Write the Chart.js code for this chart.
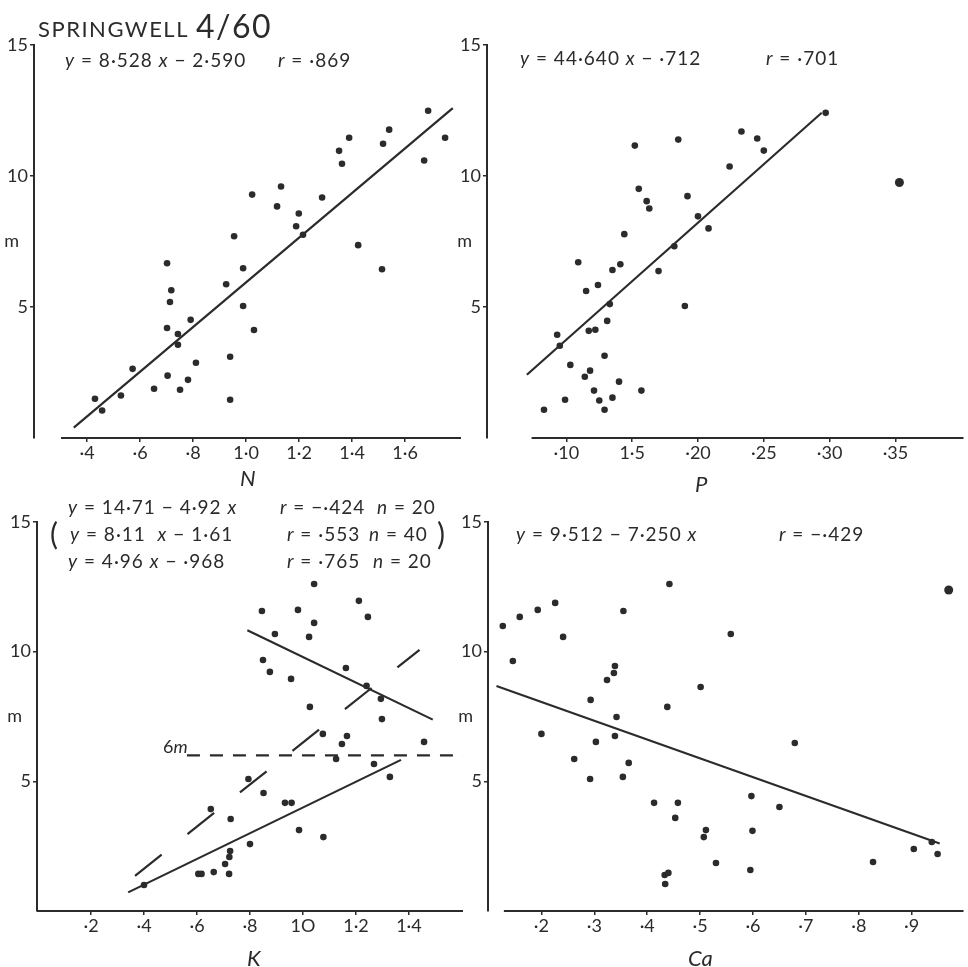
<!DOCTYPE html>
<html>
<head>
<meta charset="utf-8">
<title>Springwell 4/60</title>
<script src="https://cdn.jsdelivr.net/npm/chart.js@4.4.0/dist/chart.umd.min.js"></script>
<style>
  html, body { margin: 0; padding: 0; background: #fff; }
  #sheet { position: relative; width: 968px; height: 967px; overflow: hidden;
           font-family: Lato, 'Open Sans', 'DejaVu Sans', sans-serif; color: #2b2b2b; }
  #sheet canvas { position: absolute; left: 0; top: 0; }
  .lbl { position: absolute; white-space: nowrap; line-height: 1; font-weight: 400; }
  .eq { font-size: 19px; letter-spacing: 1px; }
  .ax { font-size: 22px; font-style: italic; }
</style>
</head>
<body>
<div id="sheet">
  <canvas id="nChart" width="968" height="967"></canvas>
  <canvas id="pChart" width="968" height="967"></canvas>
  <canvas id="kChart" width="968" height="967"></canvas>
  <canvas id="caChart" width="968" height="967"></canvas>

  <div class="lbl" style="left:38px;top:18px;font-size:22px;letter-spacing:1.5px">SPRINGWELL</div>
  <div class="lbl" style="left:196px;top:10px;font-size:32px;letter-spacing:1.5px">4/60</div>

  <div class="lbl eq" style="left:65px;top:50px"><i>y</i> = 8·528 <i>x</i> − 2·590</div>
  <div class="lbl eq" style="left:278px;top:50px"><i>r</i> = ·869</div>

  <div class="lbl eq" style="left:520px;top:48px"><i>y</i> = 44·640 <i>x</i> − ·712</div>
  <div class="lbl eq" style="left:766px;top:48px"><i>r</i> = ·701</div>

  <div class="lbl eq" style="left:68px;top:497px"><i>y</i> = 14·71 − 4·92 <i>x</i></div>
  <div class="lbl eq" style="left:280px;top:497px"><i>r</i> = −·424</div>
  <div class="lbl eq" style="left:377px;top:497px"><i>n</i> = 20</div>
  <div class="lbl" style="left:50px;top:518px;font-size:30px">(</div>
  <div class="lbl eq" style="left:70px;top:524px"><i>y</i> = 8·11 &nbsp;<i>x</i> − 1·61</div>
  <div class="lbl eq" style="left:287px;top:524px"><i>r</i> = ·553</div>
  <div class="lbl eq" style="left:369px;top:524px"><i>n</i> = 40</div>
  <div class="lbl" style="left:437px;top:518px;font-size:30px">)</div>
  <div class="lbl eq" style="left:68px;top:551px"><i>y</i> = 4·96 <i>x</i> − ·968</div>
  <div class="lbl eq" style="left:287px;top:551px"><i>r</i> = ·765</div>
  <div class="lbl eq" style="left:373px;top:551px"><i>n</i> = 20</div>
  <div class="lbl" style="left:163px;top:737px;font-size:18px">6<i>m</i></div>

  <div class="lbl eq" style="left:516px;top:524px"><i>y</i> = 9·512 − 7·250 <i>x</i></div>
  <div class="lbl eq" style="left:779px;top:524px"><i>r</i> = −·429</div>

  <div class="lbl ax" style="left:240px;top:467px">N</div>
  <div class="lbl ax" style="left:695px;top:473px">P</div>
  <div class="lbl ax" style="left:247px;top:947px">K</div>
  <div class="lbl ax" style="left:688px;top:947px">Ca</div>
</div>

<script>
const ink = '#2b2b2b';

// height (m) is the same on every panel; the unit sits a little left of the numbers
const yTicks = [5, 7.5, 10, 15];
const yLabels = ['5', 'm\u2002', '10', '15'];

// --- N ---
const nX = [1.687, 1.751, 1.540, 1.517, 1.389, 1.351, 1.362, 1.672, 1.132, 1.023,
            1.117, 1.287, 1.199, 1.189, 1.215, 0.955, 1.423, 1.513, 0.702, 0.989,
            0.925, 0.718, 0.713, 0.989, 0.791, 0.702, 1.030, 0.743, 0.743, 0.940,
            0.572, 0.811, 0.704, 0.781, 0.653, 0.751, 0.430, 0.528, 0.940, 0.457];
const nY = [12.49, 11.46, 11.77, 11.23, 11.46, 10.96, 10.47, 10.59, 9.60, 9.29,
            8.84, 9.18, 8.57, 8.08, 7.76, 7.70, 7.36, 6.44, 6.67, 6.48,
            5.87, 5.64, 5.19, 5.04, 4.51, 4.20, 4.12, 3.97, 3.56, 3.10,
            2.64, 2.87, 2.38, 2.22, 1.88, 1.84, 1.50, 1.62, 1.46, 1.05];
const nFit = [8.528, -2.590];      // slope, intercept
const nFitSpan = [0.35, 1.78];
const nTicks = [0.4, 0.6, 0.8, 1.0, 1.2, 1.4, 1.6];
const nTickLabels = ['·4', '·6', '·8', '1·0', '1·2', '1·4', '1·6'];

// --- P ---
const pX = [0.297, 0.233, 0.245, 0.250, 0.152, 0.185, 0.224, 0.155, 0.192, 0.161,
            0.163, 0.200, 0.208, 0.144, 0.182, 0.109, 0.135, 0.141, 0.170, 0.115,
            0.124, 0.133, 0.190, 0.131, 0.117, 0.122, 0.093, 0.095, 0.129, 0.103,
            0.118, 0.114, 0.140, 0.121, 0.157, 0.099, 0.125, 0.135, 0.129, 0.083];
const pY = [12.41, 11.70, 11.43, 10.97, 11.16, 11.39, 10.36, 9.51, 9.23, 9.04,
            8.76, 8.46, 8.00, 7.78, 7.32, 6.71, 6.41, 6.63, 6.37, 5.61,
            5.84, 5.11, 5.04, 4.47, 4.09, 4.13, 3.94, 3.52, 3.14, 2.79,
            2.57, 2.34, 2.15, 1.81, 1.81, 1.46, 1.43, 1.54, 1.08, 1.08];
const pBlot = [0.353, 9.75];
const pFit = [44.640, -0.712];
const pFitSpan = [0.070, 0.294];
const pTicks = [0.10, 0.15, 0.20, 0.25, 0.30, 0.35];
const pTickLabels = ['·10', '1·5', '·20', '·25', '·30', '·35'];

// --- K ---
const kX = [1.042, 1.211, 0.845, 0.981, 1.245, 1.042, 0.894, 1.023, 0.849, 0.875,
            0.955, 1.162, 1.240, 1.294, 1.026, 1.298, 1.075, 1.166, 1.147, 1.457,
            1.125, 1.268, 1.328, 0.794, 0.851, 0.932, 0.957, 0.652, 0.727, 0.985,
            1.077, 0.800, 0.725, 0.722, 0.706, 0.605, 0.617, 0.663, 0.721, 0.400];
const kY = [12.61, 11.96, 11.57, 11.61, 11.34, 11.11, 10.68, 10.57, 9.68, 9.22,
            8.95, 9.37, 8.68, 8.18, 7.87, 7.40, 6.83, 6.75, 6.44, 6.52,
            5.86, 5.67, 5.17, 5.09, 4.55, 4.17, 4.17, 3.93, 3.55, 3.12,
            2.85, 2.58, 2.31, 2.08, 1.81, 1.43, 1.43, 1.50, 1.43, 1.00];
const kFitTall = [-4.92, 14.71];   // n = 20 above 6 m
const kFitTallSpan = [0.79, 1.49];
const kFitShort = [4.96, -0.968];  // n = 20 below 6 m
const kFitShortSpan = [0.34, 1.37];
const kFitAll = [8.11, -1.61];     // n = 40
const kFitAllSpan = [0.366, 1.44];
const kSixM = 6;
const kSixMSpan = [0.562, 1.604];
const kTicks = [0.2, 0.4, 0.6, 0.8, 1.0, 1.2, 1.4];
const kTickLabels = ['·2', '·4', '·6', '·8', '1O', '1·2', '1·4'];

// --- Ca ---
const caX = [0.442, 0.226, 0.193, 0.159, 0.127, 0.355, 0.241, 0.558, 0.146, 0.339,
             0.337, 0.324, 0.501, 0.293, 0.438, 0.342, 0.200, 0.339, 0.303, 0.679,
             0.262, 0.365, 0.292, 0.354, 0.413, 0.458, 0.597, 0.650, 0.453, 0.511,
             0.507, 0.599, 0.530, 0.827, 0.595, 0.904, 0.949, 0.938, 0.433, 0.440, 0.434];
const caY = [12.61, 11.88, 11.61, 11.34, 10.99, 11.57, 10.57, 10.68, 9.64, 9.45,
             9.18, 8.91, 8.64, 8.14, 7.87, 7.48, 6.83, 6.75, 6.52, 6.48,
             5.86, 5.71, 5.09, 5.17, 4.17, 4.17, 4.43, 4.01, 3.59, 3.12,
             2.85, 3.09, 1.85, 1.89, 1.58, 2.39, 2.20, 2.66, 1.39, 1.47, 1.04];
const caBlot = [0.970, 12.38];
const caFit = [-7.250, 9.512];
const caFitSpan = [0.115, 0.953];
const caTicks = [0.2, 0.3, 0.4, 0.5, 0.6, 0.7, 0.8, 0.9];
const caTickLabels = ['·2', '·3', '·4', '·5', '·6', '·7', '·8', '·9'];

const tickFont = { family: "Lato, 'Open Sans', sans-serif", size: 18, weight: '400' };
const yAxisWidth = 34;   // room for the tick labels left of each y axis
const xAxisHeight = 34;  // room for the tick labels under each x axis

// x axis is drawn by hand so it can start clear of the y axis
const axisLines = {
  id: 'axisLines',
  afterDraw(chart, args, opts) {
    const { ctx, chartArea, scales } = chart;
    const y0 = scales.y.getPixelForValue(0);
    ctx.save();
    ctx.strokeStyle = ink;
    ctx.lineWidth = 2;
    ctx.beginPath();
    ctx.moveTo(scales.x.getPixelForValue(opts.from), y0);
    ctx.lineTo(chartArea.right, y0);
    ctx.stroke();
    ctx.restore();
  }
};

function dots(xs, ys, radius) {
  return {
    data: xs.map((x, i) => ({ x: x, y: ys[i] })),
    pointRadius: radius || 3.3,
    pointBackgroundColor: ink,
    pointBorderWidth: 0,
    showLine: false
  };
}

function fitLine(fit, span, dash) {
  return {
    data: span.map(x => ({ x: x, y: fit[0] * x + fit[1] })),
    showLine: true,
    pointRadius: 0,
    borderColor: ink,
    borderWidth: 2.2,
    borderDash: dash || []
  };
}

function makePanel(id, box, xMin, xMax, axisFrom, ticks, tickLabels, datasets) {
  return new Chart(document.getElementById(id), {
    type: 'scatter',
    data: { datasets: datasets },
    options: {
      responsive: false,
      animation: false,
      events: [],
      layout: { padding: { left: box[0] - yAxisWidth, top: box[1], right: 968 - box[2],
                           bottom: 967 - box[3] - xAxisHeight } },
      plugins: { legend: { display: false }, tooltip: { enabled: false }, axisLines: { from: axisFrom } },
      scales: {
        x: {
          type: 'linear', min: xMin, max: xMax,
          afterFit: s => { s.height = xAxisHeight; },
          afterBuildTicks: s => { s.ticks = ticks.map(v => ({ value: v })); },
          ticks: { callback: (v, i) => tickLabels[i], font: tickFont, color: ink, padding: 0,
                   maxRotation: 0, autoSkip: false },
          grid: { drawOnChartArea: false, tickLength: 4, color: ink, lineWidth: 1.5 },
          border: { display: false }
        },
        y: {
          min: 0, max: 15,
          afterFit: s => { s.width = yAxisWidth; },
          afterBuildTicks: s => { s.ticks = yTicks.map(v => ({ value: v })); },
          ticks: { callback: (v, i) => yLabels[i], font: tickFont, color: ink, padding: 2 },
          grid: { drawOnChartArea: false, tickLength: 4, lineWidth: 1.5,
                  color: c => (c.tick && c.tick.value === 7.5) ? 'rgba(0,0,0,0)' : ink },
          border: { display: true, color: ink, width: 2 }
        }
      }
    },
    plugins: [axisLines]
  });
}

makePanel('nChart', [34, 45, 461, 438], 0.2, 1.811, 0.302, nTicks, nTickLabels, [
  dots(nX, nY),
  fitLine(nFit, nFitSpan)
]);

makePanel('pChart', [487, 45, 967, 438], 0.0397, 0.4017, 0.0736, pTicks, pTickLabels, [
  dots(pX, pY),
  dots([pBlot[0]], [pBlot[1]], 4.5),
  fitLine(pFit, pFitSpan)
]);

makePanel('kChart', [37, 522, 463, 911], -0.004, 1.604, -0.004, kTicks, kTickLabels, [
  dots(kX, kY),
  fitLine(kFitTall, kFitTallSpan),
  fitLine(kFitShort, kFitShortSpan),
  fitLine(kFitAll, kFitAllSpan, [34, 33]),
  fitLine([0, kSixM], kSixMSpan, [13, 10])
]);

makePanel('caChart', [488, 522, 968, 911], 0.099, 0.998, 0.129, caTicks, caTickLabels, [
  dots(caX, caY),
  dots([caBlot[0]], [caBlot[1]], 4.5),
  fitLine(caFit, caFitSpan)
]);
</script>
</body>
</html>
